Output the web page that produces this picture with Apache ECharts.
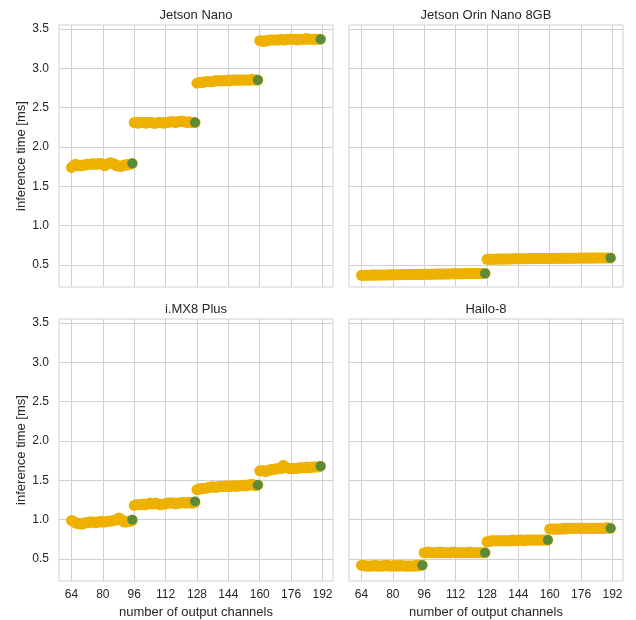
<!DOCTYPE html>
<html>
<head>
<meta charset="utf-8" />
<title>inference time vs output channels</title>
<script src="https://cdn.jsdelivr.net/npm/echarts@6/dist/echarts.min.js"></script>
<style>
  html, body { margin: 0; padding: 0; background: #fff; }
  #chart { width: 636px; height: 620px; }
</style>
</head>
<body>
<div id="chart"></div>
<script>
// number of output channels (x)
var channels = [
  64,65,66,67,68,69,70,71,72,73,74,75,76,77,78,79,80,81,82,83,84,85,86,87,88,89,90,91,92,93,94,95,
  96,97,98,99,100,101,102,103,104,105,106,107,108,109,110,111,112,113,114,115,116,117,118,119,120,121,122,123,124,125,126,127,
  128,129,130,131,132,133,134,135,136,137,138,139,140,141,142,143,144,145,146,147,148,149,150,151,152,153,154,155,156,157,158,159,
  160,161,162,163,164,165,166,167,168,169,170,171,172,173,174,175,176,177,178,179,180,181,182,183,184,185,186,187,188,189,190,191
];
var xTicks = [64, 80, 96, 112, 128, 144, 160, 176, 192];
var yTicks = [0.5, 1.0, 1.5, 2.0, 2.5, 3.0, 3.5];

// inference time [ms], one value per channel count
var nanoTime = [
  1.74,1.76,1.78,1.77,1.76,1.76,1.77,1.77,1.78,1.78,1.78,1.79,1.78,1.78,1.79,1.79,1.78,1.76,1.78,1.79,1.80,1.79,1.78,1.76,1.76,1.75,1.76,1.77,1.77,1.78,1.78,1.79,
  2.31,2.31,2.30,2.31,2.31,2.31,2.30,2.31,2.31,2.31,2.30,2.30,2.31,2.31,2.31,2.30,2.31,2.31,2.32,2.32,2.32,2.31,2.32,2.32,2.33,2.32,2.32,2.31,2.32,2.31,2.31,2.31,
  2.81,2.82,2.82,2.82,2.83,2.83,2.83,2.83,2.83,2.84,2.84,2.84,2.84,2.84,2.84,2.84,2.85,2.84,2.85,2.85,2.85,2.85,2.85,2.85,2.85,2.85,2.85,2.85,2.86,2.85,2.85,2.85,
  3.35,3.35,3.34,3.35,3.35,3.36,3.36,3.36,3.36,3.36,3.36,3.37,3.36,3.36,3.37,3.37,3.37,3.37,3.37,3.36,3.37,3.37,3.37,3.37,3.38,3.37,3.37,3.37,3.37,3.37,3.37,3.37
];
var orinTime = [
  0.368,0.369,0.369,0.370,0.370,0.371,0.371,0.371,0.372,0.372,0.373,0.373,0.373,0.374,0.374,0.375,0.375,0.375,0.376,0.376,0.377,0.377,0.377,0.378,0.378,0.378,0.379,0.379,0.380,0.380,0.380,0.381,
  0.381,0.382,0.382,0.382,0.383,0.383,0.384,0.384,0.384,0.385,0.385,0.386,0.386,0.386,0.387,0.387,0.388,0.388,0.388,0.389,0.389,0.390,0.390,0.390,0.391,0.391,0.392,0.392,0.392,0.393,0.393,0.393,
  0.572,0.573,0.573,0.574,0.574,0.575,0.575,0.575,0.576,0.576,0.577,0.577,0.577,0.578,0.578,0.578,0.579,0.579,0.579,0.580,0.580,0.580,0.580,0.581,0.581,0.581,0.582,0.582,0.582,0.582,0.583,0.583,
  0.583,0.583,0.584,0.584,0.584,0.584,0.585,0.585,0.585,0.585,0.586,0.586,0.586,0.586,0.586,0.587,0.587,0.587,0.587,0.588,0.588,0.588,0.588,0.588,0.589,0.589,0.589,0.589,0.589,0.590,0.590,0.590
];
var imxTime = [
  0.99,0.98,0.96,0.95,0.95,0.94,0.95,0.96,0.96,0.97,0.97,0.97,0.96,0.97,0.97,0.98,0.97,0.97,0.98,0.98,0.98,0.99,0.99,1.00,1.02,1.01,0.98,0.97,0.97,0.98,0.98,0.99,
  1.18,1.19,1.19,1.19,1.19,1.20,1.19,1.20,1.21,1.20,1.20,1.21,1.20,1.19,1.19,1.20,1.20,1.21,1.21,1.21,1.21,1.20,1.21,1.21,1.21,1.22,1.21,1.21,1.22,1.21,1.21,1.22,
  1.38,1.39,1.39,1.40,1.40,1.40,1.41,1.41,1.42,1.41,1.41,1.42,1.42,1.42,1.42,1.43,1.42,1.42,1.43,1.43,1.42,1.43,1.43,1.43,1.44,1.43,1.44,1.44,1.45,1.44,1.43,1.44,
  1.62,1.62,1.62,1.61,1.62,1.63,1.64,1.64,1.64,1.65,1.65,1.65,1.69,1.67,1.66,1.65,1.65,1.65,1.65,1.65,1.66,1.66,1.66,1.66,1.67,1.66,1.66,1.67,1.67,1.67,1.67,1.68
];
var hailoTime = [
  0.42,0.42,0.41,0.41,0.41,0.41,0.41,0.42,0.41,0.41,0.41,0.41,0.42,0.42,0.41,0.41,0.41,0.42,0.41,0.41,0.42,0.41,0.41,0.41,0.41,0.41,0.41,0.41,0.42,0.41,0.42,0.42,
  0.58,0.58,0.59,0.58,0.58,0.58,0.58,0.58,0.59,0.58,0.58,0.58,0.58,0.58,0.58,0.59,0.58,0.58,0.58,0.58,0.58,0.58,0.58,0.59,0.58,0.58,0.58,0.58,0.58,0.58,0.58,0.58,
  0.72,0.72,0.73,0.73,0.73,0.73,0.73,0.73,0.73,0.73,0.73,0.73,0.73,0.74,0.73,0.73,0.74,0.74,0.74,0.73,0.74,0.74,0.74,0.74,0.74,0.74,0.74,0.74,0.74,0.74,0.74,0.74,
  0.88,0.88,0.88,0.88,0.88,0.88,0.88,0.89,0.88,0.89,0.89,0.89,0.89,0.89,0.89,0.89,0.89,0.89,0.89,0.89,0.89,0.89,0.89,0.89,0.89,0.89,0.89,0.89,0.89,0.90,0.89,0.89
];

// highlighted (green) points
var nanoMarkCh = [95, 127, 159, 191];
var nanoMark = [1.79, 2.31, 2.85, 3.37];
var orinMarkCh = [127, 191];
var orinMark = [0.393, 0.590];
var imxMarkCh = [95, 127, 159, 191];
var imxMark = [1.00, 1.23, 1.44, 1.68];
var hailoMarkCh = [95, 127, 159, 191];
var hailoMark = [0.42, 0.58, 0.74, 0.89];

var panels = [
  { title: 'Jetson Nano',          ys: nanoTime,  mx: nanoMarkCh,  my: nanoMark,  left: 59,  top: 25 },
  { title: 'Jetson Orin Nano 8GB', ys: orinTime,  mx: orinMarkCh,  my: orinMark,  left: 349, top: 25 },
  { title: 'i.MX8 Plus',           ys: imxTime,   mx: imxMarkCh,   my: imxMark,   left: 59,  top: 319 },
  { title: 'Hailo-8',              ys: hailoTime, mx: hailoMarkCh, my: hailoMark, left: 349, top: 319 }
];

var FONT = '"Liberation Sans", Arial, sans-serif';
var TXT = '#262626';
var GRIDC = '#d0d0d0';
var PW = 274, PH = 262;

function zip(xs, ys) {
  var out = [];
  for (var i = 0; i < xs.length; i++) out.push([xs[i], ys[i]]);
  return out;
}

var grids = [], xAxes = [], yAxes = [], series = [], graphics = [];
panels.forEach(function (p, i) {
  var isBottom = i >= 2, isLeft = i % 2 === 0;
  grids.push({ left: p.left, top: p.top, width: PW, height: PH, show: true,
    borderColor: GRIDC, borderWidth: 1, backgroundColor: '#fff' });
  xAxes.push({
    type: 'value', gridIndex: i, min: 57.65, max: 197.35,
    axisLine: { show: false }, axisTick: { show: false, customValues: xTicks },
    axisLabel: { show: isBottom, customValues: xTicks, margin: 8, color: TXT, fontFamily: FONT, fontSize: 12 },
    splitLine: { show: true, lineStyle: { color: GRIDC, width: 1 } },
    name: isBottom ? 'number of output channels' : '', nameLocation: 'middle', nameGap: 25,
    nameTextStyle: { color: TXT, fontFamily: FONT, fontSize: 13 }
  });
  yAxes.push({
    type: 'value', gridIndex: i, min: 0.22, max: 3.55,
    axisLine: { show: false }, axisTick: { show: false, customValues: yTicks },
    axisLabel: { show: isLeft, customValues: yTicks, margin: 10, color: TXT, fontFamily: FONT, fontSize: 12,
      formatter: function (v) { return v.toFixed(1); } },
    splitLine: { show: true, lineStyle: { color: GRIDC, width: 1 } },
    name: isLeft ? 'inference time [ms]' : '', nameLocation: 'middle', nameGap: 31,
    nameTextStyle: { color: TXT, fontFamily: FONT, fontSize: 13 }
  });
  series.push({
    type: 'scatter', xAxisIndex: i, yAxisIndex: i, symbolSize: 11,
    itemStyle: { color: '#eeb100', opacity: 1 }, data: zip(channels, p.ys), z: 2, silent: true
  });
  series.push({
    type: 'scatter', xAxisIndex: i, yAxisIndex: i, symbolSize: 10,
    itemStyle: { color: '#5b8a3a', opacity: 1 }, data: zip(p.mx, p.my), z: 3, silent: true
  });
  graphics.push({
    type: 'text', x: p.left + PW / 2, y: p.top - 10,
    style: { text: p.title, fill: TXT, font: '13px ' + FONT, textAlign: 'center', textVerticalAlign: 'middle' }
  });
});

var chart = echarts.init(document.getElementById('chart'), null, { renderer: 'canvas' });
chart.setOption({
  animation: false,
  backgroundColor: '#fff',
  grid: grids,
  xAxis: xAxes,
  yAxis: yAxes,
  series: series,
  graphic: graphics
});
</script>
</body>
</html>
